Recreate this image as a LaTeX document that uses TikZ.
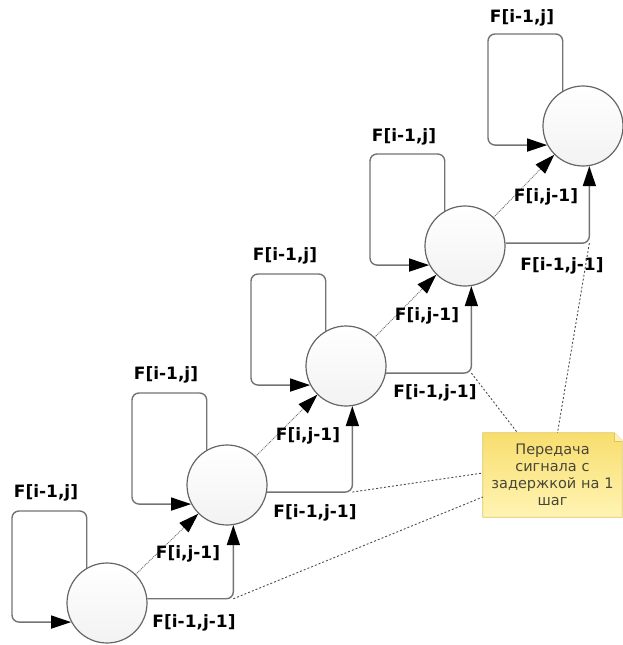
\documentclass[tikz,border=0pt]{standalone}
\usepackage{fontspec}
\newfontfamily\lblfont{DejaVu Sans}
\usetikzlibrary{arrows.meta,calc,backgrounds}

\definecolor{notetop}{RGB}{248,222,110}
\definecolor{notebot}{RGB}{255,244,180}
\definecolor{noteedge}{RGB}{225,196,90}
\definecolor{notetext}{RGB}{72,70,56}

\tikzset{
  cell/.style={circle,draw=black!60,line width=1.2pt,minimum size=80pt,inner sep=0pt,
    top color=white,middle color=black!16,bottom color=black!5},
  lbl/.style={font=\lblfont\bfseries\fontsize{17}{20}\selectfont,inner sep=0pt},
  wire/.style={draw=black!55,line width=1.4pt,rounded corners=7pt,
    -{Triangle[length=20pt,width=13pt,color=black]}},
  diagwire/.style={draw=black!60,line width=0.9pt,densely dotted,
    -{Triangle[length=20pt,width=13pt,color=black]}},
  callout/.style={draw=black!70,line width=0.9pt,dash pattern=on 2pt off 2pt},
  memo/.style={draw=noteedge,line width=0.8pt,top color=notetop,bottom color=notebot},
  memotext/.style={font=\lblfont\fontsize{14.5}{17}\selectfont,text=notetext,align=center,
    text width=136pt,inner sep=0pt,minimum width=139pt,minimum height=84pt}
}

\begin{document}
\begin{tikzpicture}[x=1pt,y=-1pt]
  \useasboundingbox (0,0) rectangle (623,645);

  \node[cell] (c1) at (107,603) {};
  \node[cell] (c2) at (227,485) {};
  \node[cell] (c3) at (346,366) {};
  \node[cell] (c4) at (465,246) {};
  \node[cell] (c5) at (583,126) {};

  % feedback loops
  \draw[wire] (c1.120) |- ($(c1)+(-95,-92)$) |- (c1.208);
  \draw[wire] (c2.120) |- ($(c2)+(-95,-92)$) |- (c2.208);
  \draw[wire] (c3.120) |- ($(c3)+(-95,-92)$) |- (c3.208);
  \draw[wire] (c4.120) |- ($(c4)+(-95,-92)$) |- (c4.208);
  \draw[wire] (c5.120) |- ($(c5)+(-95,-92)$) |- (c5.208);

  % diagonal links
  \draw[diagwire] (c1.45) -- (c2.225);
  \draw[diagwire] (c2.45) -- (c3.225);
  \draw[diagwire] (c3.45) -- (c4.225);
  \draw[diagwire] (c4.45) -- (c5.225);

  % delayed links
  \draw[wire] (c1.6) -| (c2.-81);
  \draw[wire] (c2.-10) -| (c3.-81);
  \draw[wire] (c3.-10) -| (c4.-81);
  \draw[wire] (c4.4) -| (c5.-81);
  \coordinate (k1) at (c1.6 -| c2.-81);
  \coordinate (k2) at (c2.-10 -| c3.-81);
  \coordinate (k3) at (c3.-10 -| c4.-81);
  \coordinate (k4) at (c4.4 -| c5.-81);

  \node[lbl] (up1) at (46,493) {F[i-1,j]};
  \node[lbl] (up2) at (166,375) {F[i-1,j]};
  \node[lbl] (up3) at (285,256) {F[i-1,j]};
  \node[lbl] (up4) at (404,137) {F[i-1,j]};
  \node[lbl] (up5) at (522,18) {F[i-1,j]};

  \node[lbl] (dg1) at (188,554) {F[i,j-1]};
  \node[lbl] (dg2) at (308,436) {F[i,j-1]};
  \node[lbl] (dg3) at (427,316) {F[i,j-1]};
  \node[lbl] (dg4) at (546,197) {F[i,j-1]};

  \node[lbl] (dl1) at (194,623) {F[i-1,j-1]};
  \node[lbl] (dl2) at (315,513) {F[i-1,j-1]};
  \node[lbl] (dl3) at (435,393) {F[i-1,j-1]};
  \node[lbl] (dl4) at (562,266) {F[i-1,j-1]};

  % note
  \node[memotext] (note) at (552.5,475) {Передача\\сигнала с\\задержкой на 1\\шаг};
  \begin{pgfonlayer}{background}
    \draw[memo] (note.south west) -- (note.north west) -- ($(note.north east)+(-8,0)$)
      -- ($(note.north east)+(0,8)$) -- (note.south east) -- cycle;
  \end{pgfonlayer}
  \draw[noteedge,line width=0.6pt,fill=notebot] ($(note.north east)+(-8,0)$)
    -- ($(note.north east)+(-8,8)$) -- ($(note.north east)+(0,8)$);

  \draw[callout] (k1) -- ($(note.west)+(0,22)$);
  \draw[callout] (k2) -- ($(note.west)+(0,-2)$);
  \draw[callout] (k3) -- ($(note.north)+(-35,0)$);
  \draw[callout] (k4) -- ($(note.north)+(5,0)$);
\end{tikzpicture}
\end{document}
